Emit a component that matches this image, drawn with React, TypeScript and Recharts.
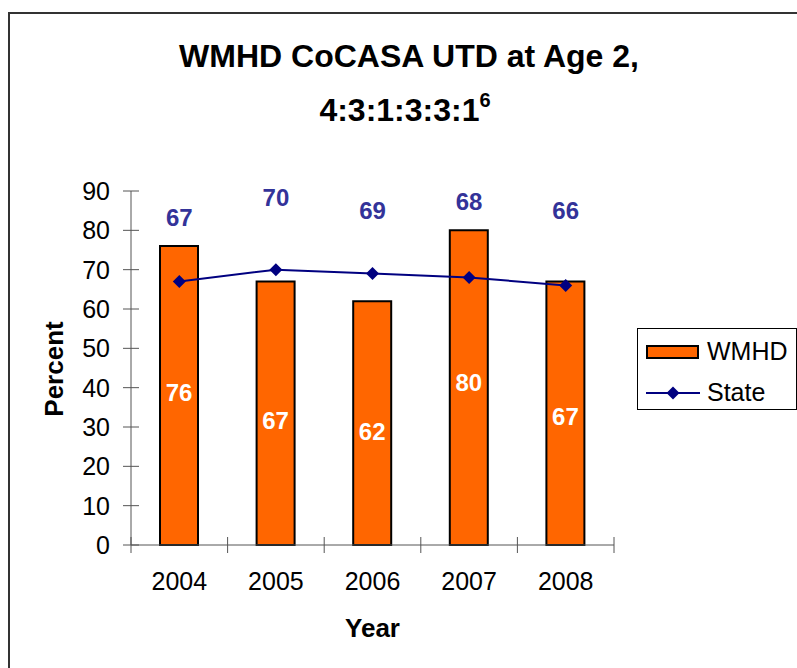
import React from 'react';
import { ComposedChart, Bar, Line, XAxis, YAxis, LabelList } from 'recharts';

const years = ['2004', '2005', '2006', '2007', '2008'];
const wmhdValues = [76, 67, 62, 80, 67];
const stateValues = [67, 70, 69, 68, 66];
const yTicks = [0, 10, 20, 30, 40, 50, 60, 70, 80, 90];

const data = years.map((year, i) => ({ year, wmhd: wmhdValues[i], state: stateValues[i] }));

// layout
const W = 797;
const H = 668;
const PLOT_LEFT = 131;
const PLOT_RIGHT = 614;
const PLOT_TOP = 191;
const PLOT_BOTTOM = 545;
const Y_AXIS_W = 40;
const X_AXIS_H = 30;
const BAND = (PLOT_RIGHT - PLOT_LEFT) / years.length;
// labels were moved by hand in the original, so nudge each one a bit differently
const stateLabelLift = [64, 72, 63, 76, 75];
const barLabelNudge = [-3, 7, 8, -5, 3];

const FONT = '"Liberation Sans", Arial, sans-serif';
const AXIS = '#555';

const YTick = (props: any) => {
  const { x, y, payload } = props;
  return (
    <g>
      <line x1={x - 8} x2={x + 8} y1={y} y2={y} stroke={AXIS} />
      <text x={x - 21} y={y} dy="0.36em" textAnchor="end" fontSize={25} fontFamily={FONT} fill="#000">
        {payload.value}
      </text>
    </g>
  );
};

const XTick = (props: any) => {
  const { x, y, payload, index } = props;
  const half = BAND / 2;
  return (
    <g>
      <line x1={x - half} x2={x - half} y1={y - 8} y2={y + 8} stroke={AXIS} />
      {index === years.length - 1 && <line x1={x + half} x2={x + half} y1={y - 8} y2={y + 8} stroke={AXIS} />}
      <text x={x} y={y + 45} textAnchor="middle" fontSize={25} fontFamily={FONT} fill="#000">
        {payload.value}
      </text>
    </g>
  );
};

const Diamond = (props: any) => {
  const { cx, cy } = props;
  if (cx == null || cy == null) return null;
  const r = 6.5;
  return <polygon points={`${cx},${cy - r} ${cx + r},${cy} ${cx},${cy + r} ${cx - r},${cy}`} fill="#000080" />;
};

const StateLabel = (props: any) => {
  const { x, y, value, index } = props;
  return (
    <text x={x} y={y - stateLabelLift[index]} dy="0.36em" textAnchor="middle" fontSize={24} fontWeight="bold" fontFamily={FONT} fill="#333399">
      {value}
    </text>
  );
};

const BarLabel = (props: any) => {
  const { x, y, width, height, value, index } = props;
  return (
    <text x={x + width / 2} y={y + height / 2 + barLabelNudge[index]} dy="0.36em" textAnchor="middle" fontSize={24} fontWeight="bold" fontFamily={FONT} fill="#fff">
      {value}
    </text>
  );
};

export default function App() {
  return (
    <div style={{ position: 'absolute', left: 0, top: 0, width: W, height: H, overflow: 'hidden', background: '#fff', fontFamily: FONT }}>
      <div style={{ position: 'absolute', left: 8, top: 12, width: 820, height: 700, borderTop: '2px solid #333', borderLeft: '2px solid #333' }} />

      <div style={{ position: 'absolute', left: 0, width: 818, top: 40, lineHeight: '32px', fontSize: 32, fontWeight: 'bold', textAlign: 'center' }}>
        WMHD CoCASA UTD at Age 2,
      </div>
      <div style={{ position: 'absolute', left: 0, width: 810, top: 86, lineHeight: '32px', fontSize: 32, fontWeight: 'bold', textAlign: 'center' }}>
        4:3:1:3:3:1<sup style={{ fontSize: 20, position: 'relative', top: -2 }}>6</sup>
      </div>

      <ComposedChart
        width={W}
        height={H}
        data={data}
        margin={{ top: PLOT_TOP, right: W - PLOT_RIGHT, bottom: H - PLOT_BOTTOM - X_AXIS_H, left: PLOT_LEFT - Y_AXIS_W }}
        style={{ position: 'absolute', left: 0, top: 0 }}
      >
        <XAxis
          dataKey="year"
          height={X_AXIS_H}
          axisLine={{ stroke: AXIS }}
          tickLine={false}
          tickSize={0}
          tickMargin={0}
          tick={<XTick />}
          interval={0}
        />
        <YAxis
          width={Y_AXIS_W}
          domain={[0, 90]}
          ticks={yTicks}
          axisLine={{ stroke: AXIS }}
          tickLine={false}
          tickSize={0}
          tickMargin={0}
          tick={<YTick />}
          interval={0}
        />
        <Bar dataKey="wmhd" barSize={38} fill="#FF6600" stroke="#000" strokeWidth={2} isAnimationActive={false}>
          <LabelList dataKey="wmhd" content={<BarLabel />} />
        </Bar>
        <Line
          dataKey="state"
          type="linear"
          stroke="#000080"
          strokeWidth={2}
          dot={<Diamond />}
          activeDot={false}
          isAnimationActive={false}
        >
          <LabelList dataKey="state" content={<StateLabel />} />
        </Line>
      </ComposedChart>

      <div style={{ position: 'absolute', left: 30, top: 369, width: 0, height: 0 }}>
        <div style={{ position: 'absolute', left: -60, top: -16, width: 120, lineHeight: '32px', fontSize: 26, fontWeight: 'bold', textAlign: 'center', transform: 'rotate(-90deg)', transformOrigin: '60px 16px', marginLeft: 24 }}>
          Percent
        </div>
      </div>
      <div style={{ position: 'absolute', left: PLOT_LEFT, width: PLOT_RIGHT - PLOT_LEFT, top: 612, lineHeight: '32px', fontSize: 26, fontWeight: 'bold', textAlign: 'center' }}>
        Year
      </div>

      <div style={{ position: 'absolute', left: 637, top: 328, width: 160, height: 82, border: '1px solid #000', boxSizing: 'border-box' }}>
        <div style={{ position: 'absolute', left: 8, top: 16, width: 53, height: 14, background: '#FF6600', border: '2px solid #000', boxSizing: 'border-box' }} />
        <div style={{ position: 'absolute', left: 69, top: 6, lineHeight: '32px', fontSize: 25 }}>WMHD</div>
        <svg style={{ position: 'absolute', left: 8, top: 56 }} width={56} height={16}>
          <line x1={0} x2={54} y1={8} y2={8} stroke="#000080" strokeWidth={2} />
          <polygon points="27,1.5 33.5,8 27,14.5 20.5,8" fill="#000080" />
        </svg>
        <div style={{ position: 'absolute', left: 69, top: 47, lineHeight: '32px', fontSize: 25 }}>State</div>
      </div>
    </div>
  );
}
